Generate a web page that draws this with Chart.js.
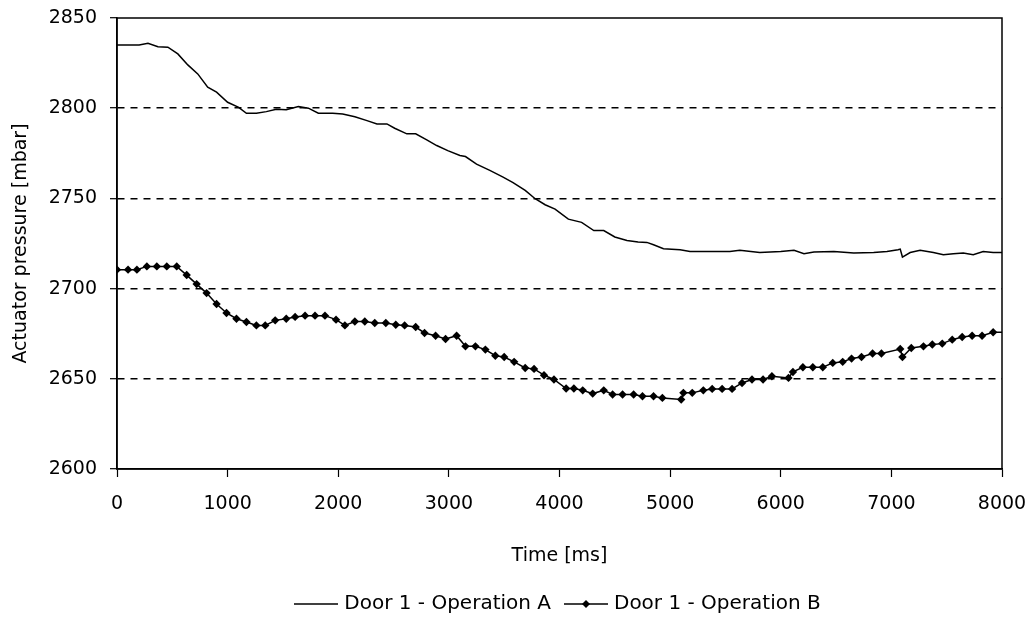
<!DOCTYPE html>
<html>
<head>
<meta charset="utf-8">
<script src="https://cdn.jsdelivr.net/npm/chart.js@4.4.0/dist/chart.umd.min.js"></script>
<style>
html,body{margin:0;padding:0;background:#fff;}
#wrap{width:1036px;height:620px;position:relative;}
canvas{display:block;}
</style>
</head>
<body>
<div id="wrap"><canvas id="c" width="1036" height="620"></canvas></div>
<script>
// ---- data ----
const labelA = 'Door 1 - Operation A';
const labelB = 'Door 1 - Operation B';

const timeA = [0,200,280,370,460,550,640,730,820,900,1000,1100,1170,1260,1350,1440,1530,1640,1730,1820,1950,2040,2150,2260,2350,2440,2510,2620,2700,2800,2890,2990,3100,3150,3250,3370,3490,3580,3690,3780,3870,3960,4080,4200,4310,4400,4500,4610,4710,4790,4850,4940,5090,5180,5360,5540,5630,5810,6000,6120,6210,6300,6480,6660,6840,6960,7060,7080,7100,7170,7260,7380,7470,7560,7650,7740,7830,7920,8000];
const pressureA = [2835,2835,2836,2834.1,2833.8,2830.1,2824,2819,2811.6,2808.9,2803.3,2800.5,2797.2,2797.2,2798.1,2799.4,2799.1,2800.9,2800,2797.2,2797.2,2796.8,2795.3,2793.1,2791.3,2791.3,2788.9,2785.8,2785.8,2782.4,2779.3,2776.5,2773.8,2773.2,2769,2765.5,2761.8,2758.8,2754.4,2749.8,2746.5,2744.1,2738.5,2736.7,2732.2,2732.2,2728.6,2726.7,2725.8,2725.6,2724.3,2722.1,2721.5,2720.6,2720.6,2720.6,2721.2,2720,2720.6,2721.2,2719.3,2720.3,2720.6,2719.7,2720,2720.6,2721.5,2721.9,2717.5,2720,2721.2,2720,2718.8,2719.3,2719.7,2718.8,2720.6,2720,2720];

const timeB = [0,100,180,270,360,450,540,630,720,810,900,990,1080,1170,1260,1340,1430,1530,1610,1700,1790,1880,1980,2060,2150,2240,2330,2430,2520,
  2600,2700,2780,2880,2970,3070,3150,3240,3330,3420,3500,3590,3690,3770,3860,3950,4060,4130,4210,4300,4400,4480,4570,4670,4750,4850,4930,5100,5120,
  5200,5300,5380,5470,5560,5650,5740,5840,5920,6070,6110,6200,6290,6380,6470,6560,6640,6730,6830,6910,7080,7100,7180,7290,7370,7460,7550,7640,7730,7820,7920,8000];
const pressureB = [2710.5,2710.5,2710.5,2712.3,2712.3,2712.3,2712.3,2707.5,2702.5,2697.5,2691.5,2686.5,2683.3,2681.5,2679.6,2679.6,2682.4,2683.3,2684.3,2685,2685,2685,2682.8,2679.6,2681.8,2681.8,2680.9,2680.9,2680,
  2679.6,2678.7,2675.4,2673.9,2672.1,2673.9,2668,2668,2666.2,2662.8,2662.1,2659.4,2656,2655.5,2652,2649.6,2644.6,2644.6,2643.6,2641.8,2643.6,2641.3,2641.3,2641.3,2640.3,2640.3,2639.4,2638.5,2642.2,
  2642.2,2643.6,2644.4,2644.4,2644.4,2647.7,2649.6,2649.6,2651.4,2650.5,2653.8,2656.4,2656.4,2656.4,2658.8,2659.4,2661.2,2662.1,2664,2664,2666.5,2662.1,2667.1,2668,2669,2669.5,2671.7,2673.2,2673.9,2673.9,2675.8,2675.8];

const xTickValues = [0,1000,2000,3000,4000,5000,6000,7000,8000];
const yTickValues = [2600,2650,2700,2750,2800,2850];
const xTitle = 'Time [ms]';
const yTitle = 'Actuator pressure [mbar]';

// ---- helpers ----
const FONT = "'DejaVu Sans', sans-serif";
function toPoints(xs, ys){ return xs.map((x,i)=>({x:x, y:ys[i]})); }

function makeSample(withMarker){
  const c = document.createElement('canvas');
  c.width = 44; c.height = 10;
  const g = c.getContext('2d');
  g.strokeStyle = '#000'; g.lineWidth = 1.5;
  g.beginPath(); g.moveTo(0,5); g.lineTo(44,5); g.stroke();
  if (withMarker){
    g.fillStyle = '#000';
    g.beginPath(); g.moveTo(22,1); g.lineTo(26,5); g.lineTo(22,9); g.lineTo(18,5); g.closePath(); g.fill();
  }
  return c;
}
const samples = [makeSample(false), makeSample(true)];

const framePlugin = {
  id: 'frame',
  afterDatasetsDraw(chart){
    const a = chart.chartArea, ctx = chart.ctx;
    ctx.save();
    ctx.strokeStyle = '#000'; ctx.lineWidth = 1.5;
    ctx.strokeRect(a.left, a.top, a.right - a.left, a.bottom - a.top);
    ctx.restore();
  }
};

const pointRadiiB = timeB.map((t,i)=> i === timeB.length-1 ? 0 : 4.2);

new Chart(document.getElementById('c'), {
  type: 'line',
  data: {
    datasets: [
      { label: labelA, data: toPoints(timeA, pressureA), borderColor:'#000', borderWidth:1.5, pointRadius:0, tension:0, fill:false },
      { label: labelB, data: toPoints(timeB, pressureB), borderColor:'#000', borderWidth:1.5, backgroundColor:'#000',
        pointStyle:'rectRot', pointRadius: pointRadiiB, pointBorderWidth:0, pointBackgroundColor:'#000', tension:0, fill:false }
    ]
  },
  options: {
    responsive:false, animation:false, devicePixelRatio:1,
    layout: { padding: { top:18, right:34, left:0, bottom:-4 } },
    plugins: {
      tooltip:{enabled:false},
      legend: {
        position:'bottom', fullSize:false,
        labels: {
          font:{family:FONT, size:20}, color:'#000',
          usePointStyle:true, pointStyleWidth:36, boxHeight:20, padding:17,
          generateLabels(chart){
            return chart.data.datasets.map((ds,i)=>({
              text: ds.label, pointStyle: samples[i], fillStyle:'rgba(0,0,0,0)',
              strokeStyle:'rgba(0,0,0,0)', lineWidth:0, hidden:false, datasetIndex:i, fontColor:'#000'
            }));
          }
        }
      }
    },
    scales: {
      x: {
        type:'linear', min:0, max:8000,
        afterBuildTicks(scale){ scale.ticks = xTickValues.map(v=>({value:v})); },
        afterFit(scale){ scale.height = 108; scale.paddingLeft = 0; scale.paddingRight = 0; },
        ticks:{ font:{family:FONT, size:19}, color:'#000', padding:16, maxRotation:0, autoSkip:false, callback:(v)=>String(v) },
        grid:{ drawOnChartArea:false, drawTicks:true, tickLength:8, tickColor:'#000', tickWidth:1.2, color:'#000' },
        border:{ display:true, color:'#000', width:1.5 },
        title:{ display:true, text:xTitle, font:{family:FONT, size:19}, color:'#000', padding:{top:0, bottom:10} }
      },
      y: {
        type:'linear', min:2600, max:2850,
        afterBuildTicks(scale){ scale.ticks = yTickValues.map(v=>({value:v})); },
        afterFit(scale){ scale.width = 117; scale.paddingTop = 0; scale.paddingBottom = 0; },
        ticks:{ font:{family:FONT, size:19}, color:'#000', padding:13, callback:(v)=>String(v) },
        grid:{
          drawOnChartArea:true, drawTicks:true, tickLength:7, tickColor:'#000', tickWidth:1.2, lineWidth:1.4,
          color:(ctx)=> (ctx.tick && (ctx.tick.value === 2600 || ctx.tick.value === 2850)) ? 'rgba(0,0,0,0)' : '#000'
        },
        border:{ display:true, color:'#000', width:1.5, dash:[7,6] },
        title:{ display:true, text:yTitle, font:{family:FONT, size:19}, color:'#000', padding:{top:10, bottom:0} }
      }
    }
  },
  plugins:[framePlugin]
});
</script>
</body>
</html>
